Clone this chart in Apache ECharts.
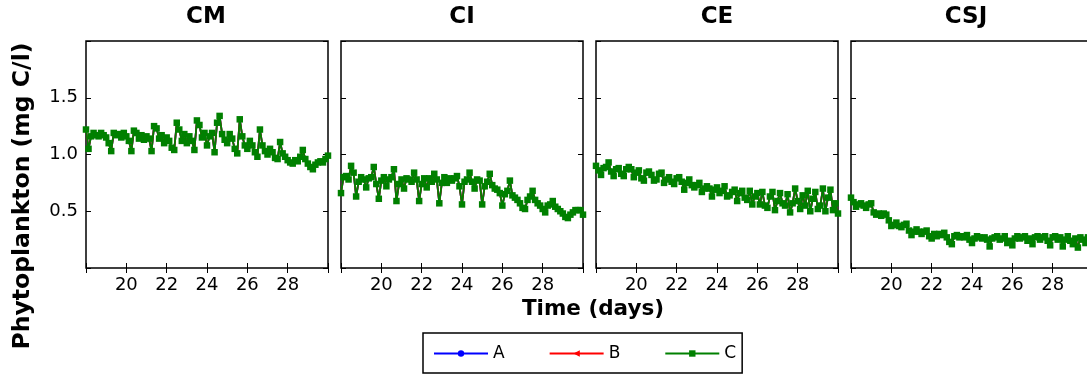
<!DOCTYPE html>
<html>
<head>
<meta charset="utf-8">
<script src="https://cdn.jsdelivr.net/npm/echarts@6/dist/echarts.min.js"></script>
<style>
  html, body { margin: 0; padding: 0; background: #fff; }
  #chart { width: 1087px; height: 374px; }
</style>
</head>
<body>
<div id="chart"></div>
<script>
// Time axis (days), 3-hourly output shared by every station
const days = [
  18.000, 18.125, 18.250, 18.375, 18.500, 18.625, 18.750, 18.875,
  19.000, 19.125, 19.250, 19.375, 19.500, 19.625, 19.750, 19.875,
  20.000, 20.125, 20.250, 20.375, 20.500, 20.625, 20.750, 20.875,
  21.000, 21.125, 21.250, 21.375, 21.500, 21.625, 21.750, 21.875,
  22.000, 22.125, 22.250, 22.375, 22.500, 22.625, 22.750, 22.875,
  23.000, 23.125, 23.250, 23.375, 23.500, 23.625, 23.750, 23.875,
  24.000, 24.125, 24.250, 24.375, 24.500, 24.625, 24.750, 24.875,
  25.000, 25.125, 25.250, 25.375, 25.500, 25.625, 25.750, 25.875,
  26.000, 26.125, 26.250, 26.375, 26.500, 26.625, 26.750, 26.875,
  27.000, 27.125, 27.250, 27.375, 27.500, 27.625, 27.750, 27.875,
  28.000, 28.125, 28.250, 28.375, 28.500, 28.625, 28.750, 28.875,
  29.000, 29.125, 29.250, 29.375, 29.500, 29.625, 29.750, 29.875,
  30.000
];

// Stations (one panel each)
const stations = ['CM', 'CI', 'CE', 'CSJ'];
// Model runs
const runNames = ['A', 'B', 'C'];

// Phytoplankton (mg C/l) per station
const phytoCM = [
  1.22, 1.05, 1.16, 1.19, 1.17, 1.16, 1.19, 1.17,
  1.15, 1.10, 1.03, 1.19, 1.17, 1.18, 1.15, 1.19,
  1.16, 1.12, 1.03, 1.21, 1.19, 1.14, 1.17, 1.13,
  1.16, 1.14, 1.03, 1.25, 1.23, 1.14, 1.17, 1.10,
  1.15, 1.12, 1.06, 1.04, 1.28, 1.22, 1.12, 1.18,
  1.10, 1.16, 1.12, 1.04, 1.30, 1.26, 1.15, 1.19,
  1.08, 1.16, 1.19, 1.02, 1.28, 1.34, 1.18, 1.13,
  1.10, 1.18, 1.14, 1.05, 1.01, 1.31, 1.16, 1.08,
  1.05, 1.12, 1.08, 1.02, 0.98, 1.22, 1.08, 1.03,
  1.00, 1.05, 1.02, 0.97, 0.96, 1.11, 1.01, 0.98,
  0.95, 0.93, 0.92, 0.95, 0.94, 0.98, 1.04, 0.96,
  0.92, 0.89, 0.87, 0.91, 0.93, 0.94, 0.93, 0.96,
  0.99
];
const phytoCI = [
  0.66, 0.80, 0.81, 0.78, 0.90, 0.84, 0.63, 0.76,
  0.80, 0.78, 0.71, 0.79, 0.80, 0.89, 0.74, 0.61,
  0.77, 0.80, 0.72, 0.78, 0.80, 0.87, 0.59, 0.74,
  0.78, 0.70, 0.79, 0.78, 0.76, 0.84, 0.78, 0.59,
  0.74, 0.79, 0.71, 0.79, 0.76, 0.83, 0.78, 0.57,
  0.75, 0.80, 0.75, 0.79, 0.77, 0.79, 0.81, 0.72,
  0.56, 0.76, 0.78, 0.84, 0.76, 0.70, 0.78, 0.77,
  0.56, 0.72, 0.76, 0.83, 0.73, 0.70, 0.69, 0.66,
  0.55, 0.65, 0.68, 0.77, 0.64, 0.62, 0.60, 0.57,
  0.53, 0.52, 0.60, 0.63, 0.68, 0.60, 0.57, 0.55,
  0.52, 0.49, 0.55, 0.56, 0.59, 0.54, 0.52, 0.50,
  0.48, 0.45, 0.44, 0.47, 0.49, 0.51, 0.51, 0.51,
  0.47
];
const phytoCE = [
  0.90, 0.86, 0.82, 0.88, 0.89, 0.93, 0.85, 0.81,
  0.87, 0.88, 0.83, 0.81, 0.87, 0.89, 0.87, 0.80,
  0.84, 0.86, 0.79, 0.77, 0.84, 0.85, 0.82, 0.77,
  0.78, 0.83, 0.84, 0.75, 0.78, 0.80, 0.76, 0.74,
  0.79, 0.80, 0.76, 0.69, 0.75, 0.78, 0.73, 0.71,
  0.73, 0.75, 0.67, 0.70, 0.72, 0.70, 0.63, 0.69,
  0.71, 0.66, 0.68, 0.72, 0.63, 0.64, 0.67, 0.69,
  0.59, 0.66, 0.68, 0.62, 0.60, 0.68, 0.56, 0.63,
  0.66, 0.56, 0.67, 0.55, 0.53, 0.63, 0.67, 0.51,
  0.59, 0.66, 0.57, 0.55, 0.65, 0.49, 0.57, 0.70,
  0.59, 0.52, 0.64, 0.55, 0.68, 0.50, 0.61, 0.67,
  0.52, 0.55, 0.70, 0.50, 0.62, 0.69, 0.51, 0.57,
  0.48
];
const phytoCSJ = [
  0.62, 0.58, 0.54, 0.56, 0.57, 0.55, 0.53, 0.56,
  0.57, 0.49, 0.47, 0.48, 0.46, 0.48, 0.47, 0.42,
  0.37, 0.38, 0.40, 0.37, 0.36, 0.38, 0.39, 0.33,
  0.29, 0.32, 0.34, 0.32, 0.30, 0.32, 0.33, 0.28,
  0.26, 0.30, 0.28, 0.30, 0.29, 0.31, 0.27, 0.23,
  0.21, 0.28, 0.29, 0.27, 0.28, 0.27, 0.29, 0.25,
  0.22, 0.26, 0.28, 0.27, 0.26, 0.27, 0.25, 0.19,
  0.26, 0.27, 0.28, 0.25, 0.26, 0.28, 0.22, 0.24,
  0.20, 0.26, 0.28, 0.26, 0.27, 0.28, 0.24, 0.26,
  0.21, 0.27, 0.28, 0.25, 0.27, 0.28, 0.24, 0.20,
  0.27, 0.28, 0.25, 0.27, 0.19, 0.25, 0.28, 0.24,
  0.21, 0.26, 0.18, 0.27, 0.25, 0.22, 0.27, 0.21,
  0.17
];
const stationValues = [phytoCM, phytoCI, phytoCE, phytoCSJ];

// Runs A and B coincide with run C at every station
const runValues = {
  A: stationValues,
  B: stationValues,
  C: stationValues
};

// Tick labels
const xTickLabels = ['20', '22', '24', '26', '28'];
const yTickLabels = ['0.5', '1.0', '1.5'];

const FONT = 'DejaVu Sans';
const runStyle = {
  A: { color: '#0000ff', symbol: 'circle', symbolSize: 5, symbolRotate: 0 },
  B: { color: '#ff0000', symbol: 'triangle', symbolSize: 5, symbolRotate: 90 },
  C: { color: '#008000', symbol: 'rect', symbolSize: 6.5, symbolRotate: 0 }
};

const panelLeft = [86, 341, 596, 851];
const panelWidth = 242;
const panelTop = 41;
const panelHeight = 227;
const titleCenter = [206, 462, 717, 966];

const grids = [], xAxes = [], yAxes = [], series = [], texts = [];

stations.forEach((name, i) => {
  // the last panel runs past the right edge of the canvas
  grids.push({
    left: panelLeft[i], top: panelTop, width: panelWidth, height: panelHeight,
    outerBoundsMode: 'none', containLabel: false,
    show: true, borderColor: '#000', borderWidth: 1.5, backgroundColor: 'transparent'
  });

  texts.push({
    type: 'text', x: titleCenter[i], y: 6,
    style: {
      text: name, font: 'bold 23px "DejaVu Sans"', fill: '#000',
      textAlign: 'center', textVerticalAlign: 'top'
    }
  });

  const tick = { show: true, inside: true, length: 5, lineStyle: { color: '#000', width: 1 } };
  // bottom axis with labels
  xAxes.push({
    type: 'value', gridIndex: i, position: 'bottom', min: 18, max: 30, interval: 2,
    axisLine: { show: false }, splitLine: { show: false }, axisTick: tick,
    axisLabel: {
      show: true, margin: 8, color: '#000', fontFamily: FONT, fontSize: 18,
      formatter: v => xTickLabels.includes(String(v)) ? String(v) : ''
    }
  });
  // top axis, ticks only
  xAxes.push({
    type: 'value', gridIndex: i, position: 'top', min: 18, max: 30, interval: 2,
    axisLine: { show: false }, splitLine: { show: false }, axisTick: tick,
    axisLabel: { show: false }
  });
  // left axis (labels on the first panel only)
  yAxes.push({
    type: 'value', gridIndex: i, position: 'left', min: 0, max: 2, interval: 0.5,
    axisLine: { show: false }, splitLine: { show: false }, axisTick: tick,
    axisLabel: {
      show: i === 0, margin: 8, color: '#000', fontFamily: FONT, fontSize: 18,
      formatter: v => yTickLabels.includes(v.toFixed(1)) ? v.toFixed(1) : ''
    }
  });
  // right axis, ticks only
  yAxes.push({
    type: 'value', gridIndex: i, position: 'right', min: 0, max: 2, interval: 0.5,
    axisLine: { show: false }, splitLine: { show: false }, axisTick: tick,
    axisLabel: { show: false }
  });

  runNames.forEach(run => {
    const st = runStyle[run];
    const vals = runValues[run][i];
    series.push({
      name: run,
      type: 'line',
      xAxisIndex: 2 * i,
      yAxisIndex: 2 * i,
      data: days.map((d, k) => [d, vals[k]]),
      symbol: st.symbol,
      symbolSize: st.symbolSize,
      symbolRotate: st.symbolRotate,
      showAllSymbol: true,
      color: st.color,
      lineStyle: { color: st.color, width: 1.8 },
      itemStyle: { color: st.color, borderWidth: 0 },
      animation: false,
      clip: true,
      z: 2 + runNames.indexOf(run)
    });
  });
});

texts.push({
  type: 'text', x: 593, y: 298,
  style: {
    text: 'Time (days)', font: 'bold 21.5px "DejaVu Sans"', fill: '#000',
    textAlign: 'center', textVerticalAlign: 'top'
  }
});
texts.push({
  type: 'text', rotation: Math.PI / 2, x: 23, y: 196,
  style: {
    text: 'Phytoplankton (mg C/l)', font: 'bold 23.5px "DejaVu Sans"', fill: '#000',
    textAlign: 'center', textVerticalAlign: 'middle'
  }
});

const option = {
  backgroundColor: '#fff',
  animation: false,
  grid: grids,
  xAxis: xAxes,
  yAxis: yAxes,
  series: series,
  legend: {
    data: runNames,
    left: 423, top: 333,
    padding: [12, 6, 11, 10],
    itemWidth: 54, itemHeight: 8, itemGap: 44,
    borderColor: '#000', borderWidth: 1.5,
    textStyle: { fontFamily: FONT, fontSize: 17, color: '#000', padding: [6, 0, 0, 0] },
    selectedMode: false
  },
  graphic: texts
};

const chart = echarts.init(document.getElementById('chart'), null, { renderer: 'canvas' });
chart.setOption(option);
</script>
</body>
</html>
